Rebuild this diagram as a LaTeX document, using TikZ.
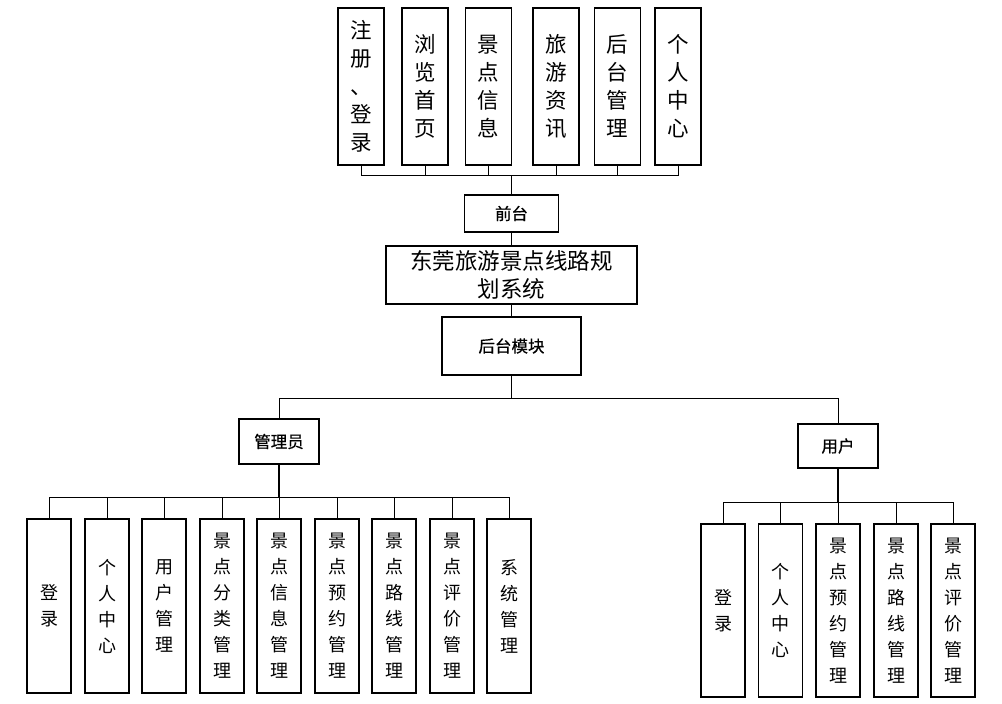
\documentclass[tikz,border=0pt]{standalone}
\usepackage{fontspec}
\newfontfamily\cjk{Noto Sans CJK SC}
\newfontfamily\cjkb[FakeBold=0.6]{Noto Sans CJK SC}
\tikzset{
  box/.style={draw, line width=1.3pt, inner sep=0pt, fill=white, align=center},
  topbox/.style={box, minimum width=46pt, minimum height=157pt, font={\cjk\fontsize{21.5}{28}\selectfont}},
  lowbox/.style={box, minimum width=44pt, minimum height=174pt, font={\cjk\fontsize{18}{26}\selectfont}},
  label/.style={box, font={\cjkb\fontsize{16.5}{18}\selectfont}},
  conn/.style={line width=1pt},
  stem/.style={line width=2pt},
}
\begin{document}
\begin{tikzpicture}[x=1pt,y=-1pt]
\useasboundingbox (0,0) rectangle (1002,704);
% top modules
\node[topbox] (t1) at (361,86.5) {注\\册\\、\\登\\录};
\node[topbox] (t2) at (425,86.5) {浏\\览\\首\\页};
\node[topbox] (t3) at (488.5,86.5) {景\\点\\信\\息};
\node[topbox] (t4) at (556,86.5) {旅\\游\\资\\讯};
\node[topbox] (t5) at (617.5,86.5) {后\\台\\管\\理};
\node[topbox] (t6) at (678,86.5) {个\\人\\中\\心};
% middle
\node[label, minimum width=94pt, minimum height=37pt] (qt) at (511.5,213.5) {前台};
\node[box, minimum width=251pt, minimum height=58pt, text width=225pt, font={\cjk\fontsize{22.5}{28}\selectfont}] (sys) at (511.5,275) {东莞旅游景点线路规\\划系统};
\node[label, minimum width=139pt, minimum height=58pt] (ht) at (511.5,346) {后台模块};
\node[label, minimum width=80pt, minimum height=45pt] (adm) at (279,441.5) {管理员};
\node[label, minimum width=80pt, minimum height=44pt] (usr) at (838,446) {用户};
% admin children
\node[lowbox] (a1) at (49,606) {登\\录};
\node[lowbox] (a2) at (107,606) {个\\人\\中\\心};
\node[lowbox] (a3) at (164,606) {用\\户\\管\\理};
\node[lowbox] (a4) at (222,606) {景\\点\\分\\类\\管\\理};
\node[lowbox] (a5) at (279,606) {景\\点\\信\\息\\管\\理};
\node[lowbox] (a6) at (337,606) {景\\点\\预\\约\\管\\理};
\node[lowbox] (a7) at (394,606) {景\\点\\路\\线\\管\\理};
\node[lowbox] (a8) at (452,606) {景\\点\\评\\价\\管\\理};
\node[lowbox] (a9) at (509,606) {系\\统\\管\\理};
% user children
\node[lowbox, minimum height=173pt] (u1) at (723,610.5) {登\\录};
\node[lowbox, minimum height=173pt] (u2) at (780.5,610.5) {个\\人\\中\\心};
\node[lowbox, minimum height=173pt] (u3) at (838,610.5) {景\\点\\预\\约\\管\\理};
\node[lowbox, minimum height=173pt] (u4) at (896,610.5) {景\\点\\路\\线\\管\\理};
\node[lowbox, minimum height=173pt] (u5) at (953,610.5) {景\\点\\评\\价\\管\\理};
% bus coordinates
\coordinate (bt) at (511.5,175);
\coordinate (mb) at (511.5,398);
\coordinate (lb) at (279,497);
\coordinate (rb) at (838,502);
% connectors
\foreach \n in {t1,t2,t3,t4,t5,t6} \draw[conn] (\n.south) |- (bt);
\draw[conn] (bt) -- (qt.north);
\draw[conn] (qt.south) -- (sys.north);
\draw[conn] (sys.south) -- (ht.north);
\draw[conn] (ht.south) -- (mb);
\draw[conn] (mb) -| (adm.north);
\draw[conn] (mb) -| (usr.north);
\draw[stem] (adm.south) -- (lb);
\draw[stem] (usr.south) -- (rb);
\foreach \n in {a1,a2,a3,a4,a5,a6,a7,a8,a9} \draw[conn] (lb) -| (\n.north);
\foreach \n in {u1,u2,u3,u4,u5} \draw[conn] (rb) -| (\n.north);
\end{tikzpicture}
\end{document}
